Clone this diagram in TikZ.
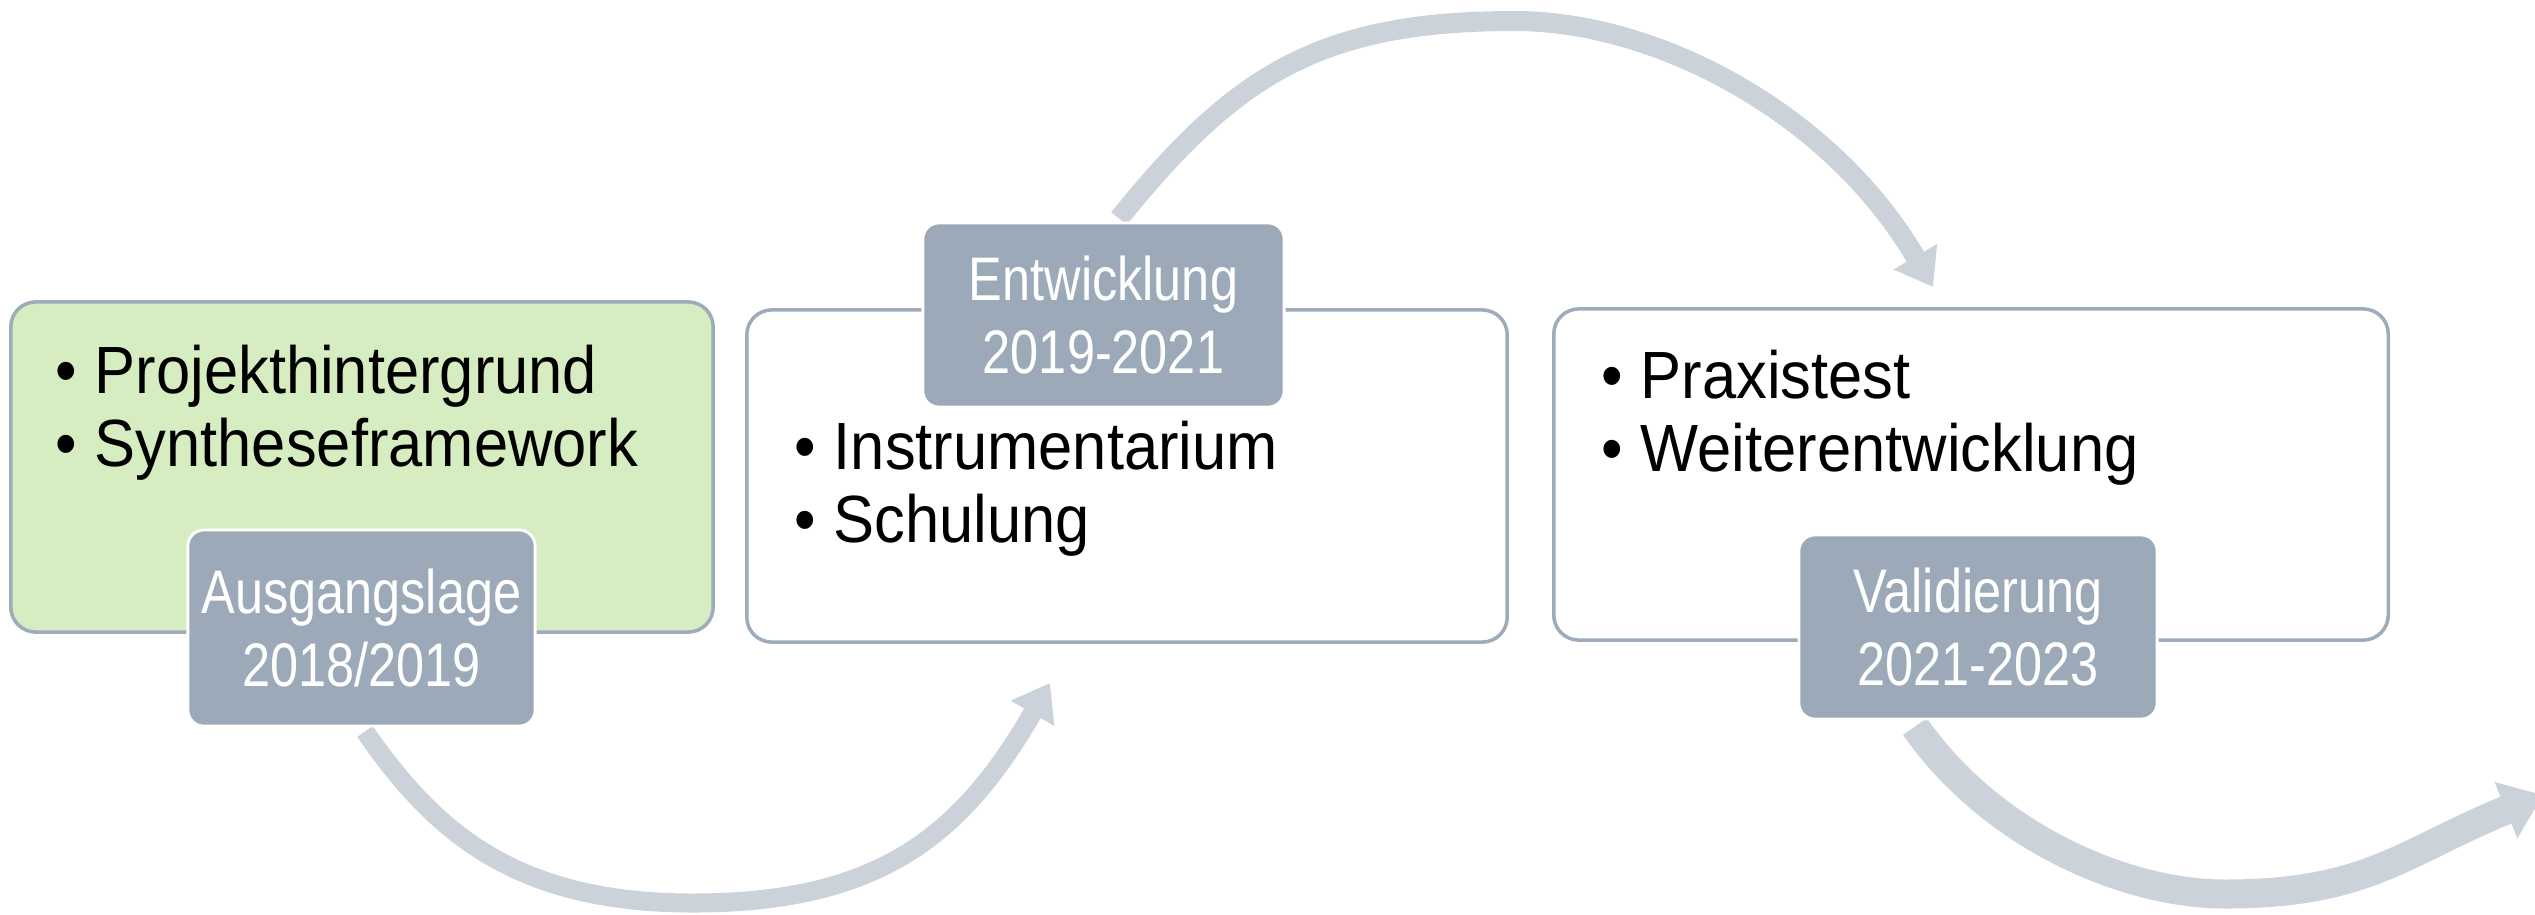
\documentclass[tikz,border=0pt]{standalone}
\usepackage{fontspec}
\setmainfont{Liberation Sans}
\newfontfamily\bodyfont[FakeStretch=0.92]{Liberation Sans}
\newfontfamily\tagfont[FakeStretch=0.82]{Liberation Sans}
\usetikzlibrary{arrows.meta,backgrounds}

\definecolor{edgecol}{HTML}{9EABBB}
\definecolor{tagfill}{HTML}{9CA9B8}
\definecolor{arrowgray}{HTML}{CBD2DA}
\definecolor{leaf}{HTML}{D6ECC1}

\tikzset{
  phasebox/.style={draw=edgecol, line width=1pt, rounded corners=0.25cm, fill=white},
  tagbox/.style={draw=white, line width=0.8pt, rounded corners=0.16cm, fill=tagfill,
    text=white, align=center, inner sep=0pt,
    font=\tagfont\fontsize{17.5}{20.8}\selectfont},
  item/.style={anchor=base west, inner sep=0pt, text=black,
    font=\bodyfont\fontsize{19}{20.8}\selectfont},
  flowarrow/.style={draw=arrowgray, line width=0.19cm,
    -{Triangle[width=0.48cm,length=0.35cm]}},
  bigflowarrow/.style={draw=arrowgray, line width=0.29cm,
    -{Triangle[width=0.58cm,length=0.40cm]}}
}

\begin{document}
\begin{tikzpicture}[x=0.01cm, y=-0.01cm]
  \useasboundingbox (0,0) rectangle (2535,914);
  \clip (0,0) rectangle (2535,914);

  % phase boxes
  \node[phasebox, fill=leaf, minimum width=7.02cm, minimum height=3.30cm] (box1) at (362,467) {};
  \node[phasebox, minimum width=7.60cm, minimum height=3.32cm] (box2) at (1127,476) {};
  \node[phasebox, minimum width=8.34cm, minimum height=3.31cm] (box3) at (1971,474.5) {};

  % phase tags
  \node[tagbox, minimum width=3.47cm, minimum height=1.96cm] (lab1) at (361.5,628) {Ausgangslage\\2018/2019};
  \node[tagbox, minimum width=3.61cm, minimum height=1.84cm] (lab2) at (1103.5,315) {Entwicklung\\2019-2021};
  \node[tagbox, minimum width=3.58cm, minimum height=1.84cm] (lab3) at (1978,627) {Validierung\\2021-2023};

  % bullet items
  \node[item] (t1a) at (55,393) {•\hspace{5pt}Projekthintergrund};
  \node[item] (t1b) at (55,466) {•\hspace{5pt}Syntheseframework};
  \node[item] (t2a) at (794,469) {•\hspace{5pt}Instrumentarium};
  \node[item] (t2b) at (794,542) {•\hspace{5pt}Schulung};
  \node[item] (t3a) at (1601,398) {•\hspace{5pt}Praxistest};
  \node[item] (t3b) at (1601,471) {•\hspace{5pt}Weiterentwicklung};

  % turning and end points of the arrows
  \coordinate (bot1) at (693,903);
  \coordinate (tip1) at (1050,683);
  \coordinate (top2) at (1515,21);
  \coordinate (tip2) at (1933,287);
  \coordinate (bot3) at (2225,894);
  \coordinate (tip3) at (2543,795);

  % arrows between the phases, behind the boxes
  \begin{scope}[on background layer]
    \draw[flowarrow] ([xshift=0.035cm,yshift=-0.04cm]lab1.south)
      .. controls +(71,103) and +(-175,0) .. (bot1)
      .. controls +(187,0) and +(-88,152) .. (tip1);
    \draw[flowarrow, line width=0.2cm] ([xshift=0.155cm,yshift=0.03cm]lab2.north)
      .. controls +(116,-144) and +(-195,0) .. (top2)
      .. controls +(143,0) and +(-101,-173) .. (tip2);
    \draw[bigflowarrow] ([xshift=-0.63cm,yshift=-0.06cm]lab3.south)
      .. controls +(75,108) and +(-102,0) .. (bot3)
      .. controls +(143,0) and +(-140,57) .. (tip3);
  \end{scope}
\end{tikzpicture}
\end{document}
